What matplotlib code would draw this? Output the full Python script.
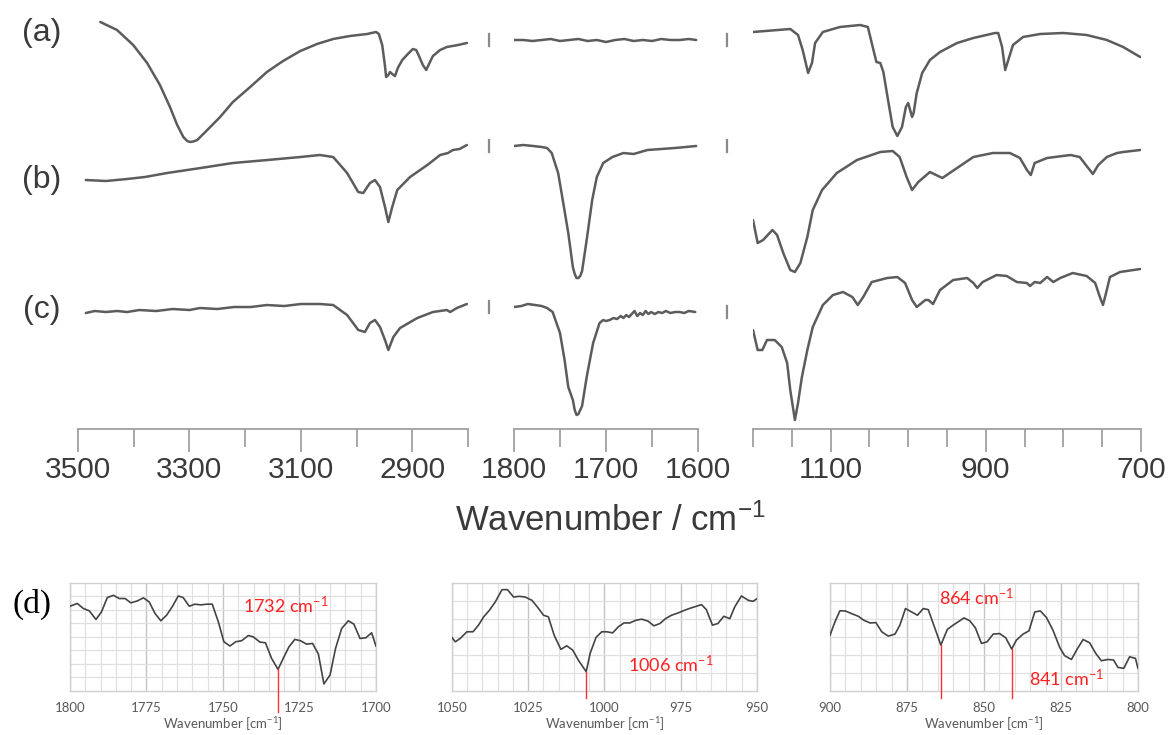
import numpy as np
import matplotlib
matplotlib.use("Agg")
import matplotlib.pyplot as plt
import matplotlib.transforms as mtransforms

plt.rcParams['font.family'] = ['Liberation Sans', 'DejaVu Sans']
plt.rcParams['mathtext.default'] = 'regular'

# ---- FT-IR spectra (stacked, arbitrary transmittance units) ----
# segment 1 : 3500-2800 cm-1
a1_wn = [3460, 3430, 3401, 3376, 3353, 3335, 3322, 3311, 3304, 3299, 3293, 3286, 3268, 3245,
         3222, 3191, 3161, 3132, 3101, 3071, 3042, 3012, 2981, 2965, 2960, 2954, 2949, 2947,
         2943, 2940, 2936, 2931, 2926, 2918, 2908, 2899, 2893, 2888, 2881, 2875, 2870, 2863,
         2850, 2838, 2818, 2802]
a1_t = [41.8, 41.0, 39.5, 37.7, 35.5, 33.3, 31.5, 30.3, 29.9, 29.8, 29.85, 30.0, 31.0, 32.3,
        33.8, 35.3, 36.8, 37.9, 38.9, 39.6, 40.1, 40.4, 40.6, 40.8, 40.6, 39.5, 37.4, 36.3,
        36.5, 36.8, 36.6, 36.4, 37.2, 38.0, 38.6, 39.1, 39.0, 38.4, 37.5, 37.0, 37.6, 38.4,
        39.0, 39.3, 39.5, 39.7]
b1_wn = [3486, 3450, 3412, 3380, 3340, 3280, 3222, 3160, 3101, 3066, 3042, 3017, 2997, 2988,
         2976, 2967, 2958, 2949, 2943, 2936, 2927, 2904, 2873, 2850, 2836, 2827, 2815, 2802]
b1_t = [26.0, 25.9, 26.1, 26.3, 26.7, 27.2, 27.7, 28.0, 28.3, 28.5, 28.3, 26.7, 24.8, 24.7,
        25.7, 26.0, 25.3, 23.3, 21.8, 23.3, 25.0, 26.3, 27.5, 28.5, 28.7, 29.0, 29.1, 29.5]
c1_wn = [3486, 3470, 3450, 3430, 3412, 3390, 3360, 3330, 3300, 3281, 3250, 3220, 3190, 3161,
         3130, 3100, 3066, 3042, 3017, 2997, 2985, 2976, 2967, 2958, 2949, 2943, 2934, 2922,
         2891, 2863, 2838, 2832, 2820, 2802]
c1_t = [12.7, 12.9, 12.8, 12.9, 12.8, 13.0, 12.9, 13.1, 13.0, 13.2, 13.1, 13.3, 13.3, 13.5,
        13.4, 13.6, 13.6, 13.5, 12.5, 11.0, 10.8, 11.7, 12.0, 11.3, 10.0, 9.0, 10.3, 11.2,
        12.2, 12.8, 13.0, 12.8, 13.2, 13.6]

# segment 2 : 1800-1600 cm-1
a2_wn = [1800, 1790, 1780, 1770, 1760, 1750, 1740, 1730, 1720, 1710, 1700, 1690, 1680, 1670,
         1660, 1650, 1640, 1630, 1620, 1610, 1602]
a2_t = [40.0, 40.0, 39.9, 40.0, 40.1, 39.9, 40.0, 40.1, 39.9, 40.0, 39.8, 40.0, 40.1, 39.9,
        40.0, 39.9, 40.1, 40.0, 40.0, 40.1, 40.0]
b2_wn = [1800, 1790, 1779, 1770, 1764, 1759, 1752, 1747, 1741, 1736, 1734, 1732, 1730, 1728,
         1726, 1721, 1715, 1710, 1703, 1693, 1681, 1670, 1655, 1640, 1625, 1602]
b2_t = [29.4, 29.5, 29.4, 29.3, 29.2, 28.7, 26.7, 24.0, 20.7, 17.3, 16.6, 16.2, 16.2, 16.4,
        16.9, 20.0, 24.0, 26.3, 27.7, 28.3, 28.7, 28.6, 29.0, 29.1, 29.2, 29.4]
c2_wn = [1800, 1792, 1785, 1777, 1770, 1764, 1758, 1750, 1745, 1741, 1736, 1734, 1732, 1730,
         1726, 1721, 1714, 1707, 1703, 1700, 1696, 1692, 1688, 1684, 1681, 1678, 1675, 1672,
         1669, 1666, 1663, 1660, 1657, 1654, 1651, 1647, 1643, 1639, 1635, 1630, 1625, 1620,
         1615, 1610, 1603]
c2_t = [13.3, 13.4, 13.6, 13.5, 13.4, 13.2, 12.8, 10.7, 8.0, 5.3, 4.0, 3.0, 2.5, 2.6,
        3.4, 6.3, 9.7, 11.7, 12.0, 11.9, 12.0, 12.2, 12.1, 12.4, 12.2, 12.5, 12.3, 12.6,
        12.9, 12.4, 12.7, 12.5, 12.9, 12.6, 12.8, 12.6, 12.8, 12.7, 12.9, 12.7, 12.8, 12.8,
        12.7, 12.9, 12.8]

# segment 3 : 1200-700 cm-1
a3_wn = [1200, 1152, 1142, 1136, 1129, 1124, 1120, 1110, 1088, 1062, 1052, 1047, 1041, 1036,
         1032, 1026, 1020, 1014, 1008, 1003, 1000, 995, 993, 989, 982, 972, 959, 937, 916,
         888, 884, 879, 875, 871, 865, 852, 830, 800, 770, 744, 723, 701]
a3_t = [40.8, 41.1, 40.5, 39.0, 36.7, 37.7, 39.7, 40.8, 41.3, 41.5, 41.3, 39.7, 37.8, 37.7,
        36.8, 34.0, 31.3, 30.4, 31.3, 33.3, 33.7, 32.3, 32.7, 34.7, 36.7, 38.0, 38.8, 39.7,
        40.2, 40.7, 40.7, 39.3, 37.0, 38.0, 39.5, 40.3, 40.6, 40.7, 40.5, 40.0, 39.3, 38.3]
b3_wn = [1200, 1194, 1187, 1175, 1169, 1161, 1152, 1146, 1139, 1130, 1123, 1111, 1092, 1066,
         1036, 1020, 1011, 1002, 995, 987, 972, 956, 937, 916, 891, 869, 856, 847, 842, 837,
         821, 791, 779, 768, 762, 755, 744, 731, 723, 701]
b3_t = [22.0, 19.7, 20.0, 21.0, 20.5, 18.7, 17.0, 16.8, 17.7, 20.3, 23.0, 25.0, 26.7, 28.0,
        28.8, 28.9, 28.3, 26.3, 25.0, 25.8, 26.8, 26.2, 27.2, 28.3, 28.7, 28.7, 28.2, 27.0,
        26.5, 27.7, 28.2, 28.5, 28.3, 27.2, 26.6, 27.5, 28.3, 28.7, 28.8, 29.0]
c3_wn = [1200, 1194, 1188, 1182, 1172, 1163, 1156, 1152, 1148, 1146, 1142, 1137, 1130, 1123,
         1110, 1097, 1084, 1072, 1065, 1058, 1047, 1027, 1014, 1004, 995, 989, 978, 974, 968,
         959, 942, 924, 916, 911, 904, 886, 873, 860, 847, 843, 837, 830, 821, 813, 804, 788,
         770, 759, 753, 749, 745, 740, 727, 701]
c3_t = [11.0, 9.0, 9.0, 10.0, 10.0, 9.3, 7.7, 5.0, 3.0, 2.0, 3.7, 6.3, 9.0, 11.3,
        13.5, 14.5, 14.8, 14.3, 13.5, 14.3, 15.8, 16.2, 16.3, 15.7, 14.0, 13.3, 14.0, 14.0, 13.6,
        15.0, 16.0, 16.2, 15.7, 15.2, 15.8, 16.5, 16.4, 15.8, 15.7, 15.4, 15.8, 15.7, 16.3, 15.8,
        16.2, 16.7, 16.4, 15.7, 14.3, 13.5, 14.7, 16.3, 16.8, 17.1]

seg_limits = [(3500, 2800), (1800, 1600), (1200, 700)]
seg_major = [[3500, 3300, 3100, 2900], [1800, 1700, 1600], [1100, 900, 700]]
seg_minor = [[3400, 3200, 3000, 2800], [1750, 1650],
             [1200, 1150, 1050, 1000, 950, 850, 800, 750]]
seg_data = [
    [(a1_wn, a1_t), (b1_wn, b1_t), (c1_wn, c1_t)],
    [(a2_wn, a2_t), (b2_wn, b2_t), (c2_wn, c2_t)],
    [(a3_wn, a3_t), (b3_wn, b3_t), (c3_wn, c3_t)],
]
sample_labels = ['(a)', '(b)', '(c)']

# ---- zoomed difference spectra for (d) ----
d1_wn = [1800.0, 1797.6, 1795.6, 1793.7, 1791.5, 1789.7, 1787.8, 1785.8, 1783.9, 1782.0,
         1780.1, 1778.0, 1776.0, 1774.1, 1772.2, 1770.3, 1768.4, 1766.6, 1764.6, 1763.0,
         1761.0, 1759.2, 1757.2, 1755.3, 1753.5, 1751.5, 1749.7, 1747.7, 1745.8, 1743.9,
         1741.7, 1740.1, 1737.9, 1736.1, 1734.1, 1732.0, 1730.3, 1728.4, 1726.5, 1724.6,
         1722.7, 1720.7, 1718.8, 1717.0, 1715.0, 1713.2, 1711.2, 1709.0, 1707.2, 1705.2,
         1703.3, 1701.4, 1700.0]
d1_t = [6.28, 6.48, 6.11, 5.94, 5.30, 5.86, 6.92, 7.09, 6.85, 6.85, 6.53, 6.67, 6.90, 6.60,
        5.74, 5.20, 5.62, 6.23, 7.04, 6.92, 6.28, 6.43, 6.38, 6.43, 6.43, 5.12, 3.65, 3.33,
        3.65, 3.72, 4.11, 4.01, 3.62, 3.57, 2.41, 1.60, 2.41, 3.28, 3.82, 3.72, 3.47, 3.52,
        2.73, 0.52, 1.18, 3.15, 4.63, 5.20, 4.95, 3.89, 3.94, 4.31, 3.33]
d2_wn = [1050.0, 1048.9, 1047.3, 1045.1, 1043.1, 1041.3, 1039.6, 1037.7, 1035.8, 1033.6,
         1031.8, 1029.8, 1027.9, 1026.0, 1023.8, 1022.0, 1020.0, 1018.4, 1016.5, 1014.3,
         1012.4, 1010.4, 1008.6, 1006.0, 1004.7, 1002.8, 1000.9, 999.3, 997.3, 995.5, 993.6,
         991.7, 989.7, 987.8, 985.7, 983.8, 981.8, 980.0, 978.0, 975.8, 973.7, 971.5, 969.8,
         968.2, 966.6, 964.6, 962.8, 960.9, 958.9, 957.3, 955.1, 952.9, 951.3, 950.0]
d2_t = [2.97, 2.73, 2.92, 3.29, 3.29, 3.66, 4.12, 4.49, 4.95, 5.63, 5.63, 5.22, 5.26, 5.22,
        5.04, 4.67, 4.21, 4.12, 3.10, 2.31, 2.51, 2.27, 1.72, 1.07, 2.09, 2.97, 3.29, 3.29,
        3.23, 3.56, 3.78, 3.78, 3.93, 3.99, 3.88, 3.62, 3.75, 4.02, 4.21, 4.34, 4.49, 4.62,
        4.71, 4.80, 4.52, 3.66, 3.75, 4.15, 4.02, 4.67, 5.28, 5.04, 4.98, 5.13]
d3_wn = [900.0, 898.4, 896.8, 895.1, 893.0, 890.8, 889.0, 887.0, 885.1, 883.2, 881.1, 878.9,
         877.3, 875.5, 873.5, 871.6, 869.7, 868.1, 866.3, 864.0, 861.9, 860.0, 858.4, 856.5,
         854.6, 852.8, 850.8, 849.0, 847.0, 844.9, 842.9, 841.0, 839.5, 837.3, 835.4, 833.5,
         831.7, 829.7, 827.6, 825.4, 823.8, 821.6, 819.8, 817.8, 815.7, 813.7, 811.9, 809.7,
         807.9, 806.5, 804.6, 802.7, 800.8, 800.0]
d3_t = [3.10, 3.84, 4.45, 4.45, 4.30, 4.15, 3.93, 3.78, 3.80, 3.29, 3.05, 3.16, 3.66, 4.58,
        4.39, 4.21, 4.58, 4.52, 3.66, 2.55, 3.42, 3.66, 3.84, 4.06, 3.90, 3.51, 2.64, 2.73,
        3.16, 3.19, 2.95, 2.33, 2.82, 3.16, 3.34, 4.39, 4.45, 4.08, 3.38, 2.42, 1.96, 1.75,
        2.31, 2.86, 2.68, 2.09, 1.68, 1.75, 1.72, 1.31, 1.26, 1.90, 1.81, 1.26]

d_data = [(d1_wn, d1_t), (d2_wn, d2_t), (d3_wn, d3_t)]
d_limits = [(1800, 1700), (1050, 950), (900, 800)]
d_rows = [8, 6, 6]
d_peaks = [[1732], [1006], [864, 841]]
# label anchor (left x, centre y) and bottom of marker line, per peak
d_label_pos = [[(1743.5, 6.35)], [(992.4, 1.48)], [(864.6, 5.17), (835.4, 0.70)]]
d_line_bottom = [-1.53, -0.41, -0.41]

fig = plt.figure(figsize=(11.7, 7.35), dpi=100)

spec_col = '#5c5c5c'
axis_col = '#a0a0a0'
lefts = [0.0667, 0.4393, 0.6436]
widths = [0.3333, 0.1573, 0.3316]
top_axes = []
for i in range(3):
    ax = fig.add_axes([lefts[i], 0.4163, widths[i], 0.5701])
    for wn, t in seg_data[i]:
        ax.plot(wn, t, color=spec_col, lw=1.8, solid_joinstyle='round',
                solid_capstyle='round')
    ax.set_xlim(*seg_limits[i])
    ax.set_ylim(1.1, 43.0)
    for s in ['left', 'right', 'top']:
        ax.spines[s].set_visible(False)
    ax.spines['bottom'].set_color(axis_col)
    ax.spines['bottom'].set_linewidth(1.3)
    ax.set_yticks([])
    ax.set_xticks(seg_major[i])
    ax.set_xticks(seg_minor[i], minor=True)
    ax.tick_params(axis='x', which='major', length=16.5, width=1.3, color=axis_col,
                   labelsize=21.5, labelcolor='#3a3a3a', pad=3)
    ax.tick_params(axis='x', which='minor', length=13, width=1.3, color=axis_col)
    ax.patch.set_visible(False)
    top_axes.append(ax)

# axis break markers either side of the middle segment
ax2 = top_axes[1]
trans = mtransforms.blended_transform_factory(ax2.transAxes, ax2.transData)
for wn, t in seg_data[1]:
    for xf, yv in [(-0.136, t[0]), (1.158, t[-1])]:
        ax2.plot([xf, xf], [yv - 0.6, yv + 0.6], color='#8a8a8a', lw=1.6,
                 transform=trans, clip_on=False)

fig.text(0.522, 0.292, 'Wavenumber / cm$^{-1}$', ha='center', va='center',
         fontsize=25, color='#3a3a3a')

for lab, yy in zip(sample_labels, [0.955, 0.755, 0.578]):
    fig.text(0.036, yy, lab, ha='center', va='center', fontsize=23, color='#3a3a3a')

# ---- (d) panels ----
d_lefts = [0.0598, 0.3863, 0.7094]
d_widths = [0.2615, 0.2607, 0.2632]
for i in range(3):
    ax = fig.add_axes([d_lefts[i], 0.0599, d_widths[i], 0.1469])
    lo, hi = d_limits[i]
    ax.set_xlim(lo, hi)
    ax.set_ylim(0, d_rows[i])
    for x in np.arange(hi, lo + 1, 5):
        major = (x - hi) % 25 == 0
        ax.axvline(x, color='#c4c4c4' if major else '#e0e0e0', lw=1.0 if major else 0.9,
                   zorder=0)
    for y in range(1, d_rows[i]):
        ax.axhline(y, color='#e0e0e0', lw=0.9, zorder=0)
    for s in ax.spines.values():
        s.set_color('#d0d0d0')
        s.set_linewidth(1.0)
    wn, t = d_data[i]
    ax.plot(wn, t, color='#444444', lw=1.2, zorder=3)
    ax.set_yticks([])
    ax.set_xticks(np.arange(lo, hi - 1, -25))
    ax.tick_params(axis='x', length=0, pad=8, labelsize=9.5, labelcolor='#595959')
    for lbl in ax.get_xticklabels():
        lbl.set_fontfamily(['Lato', 'DejaVu Sans'])
    ax.set_xlabel('Wavenumber [cm$^{-1}$]', fontsize=9.5, color='#595959',
                  family=['Lato', 'DejaVu Sans'], labelpad=1)
    for pk, (lx, ly) in zip(d_peaks[i], d_label_pos[i]):
        yv = np.interp(pk, wn[::-1], t[::-1])
        ax.plot([pk, pk], [d_line_bottom[i], yv], color='#ff3030', lw=1.0, zorder=4,
                clip_on=False)
        ax.text(lx, ly, f'{pk} cm$^{{-1}}$', color='#ff2020', fontsize=13, ha='left',
                va='center', family=['Lato', 'DejaVu Sans'], zorder=5)

fig.text(0.027, 0.178, '(d)', ha='center', va='center', fontsize=24, color='black',
         family=['Liberation Serif', 'DejaVu Serif'])

fig.savefig('out.png', dpi=100)
